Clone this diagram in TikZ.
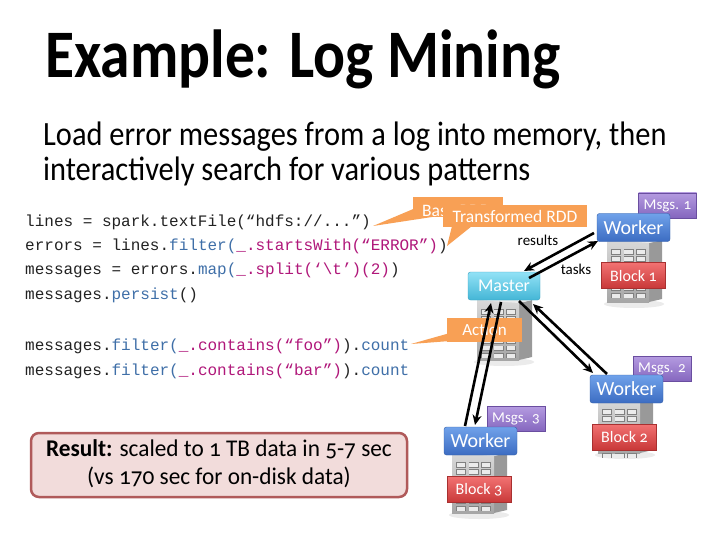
\documentclass[tikz,border=0pt]{standalone}
\usepackage{graphicx}
\usepackage{fontspec}
\setmainfont{Carlito}[Numbers=OldStyle]
\setmonofont{Liberation Mono}
\usetikzlibrary{arrows.meta}
\definecolor{kw}{HTML}{3F6FA8}
\definecolor{st}{HTML}{B0177A}
\definecolor{codeblk}{HTML}{222222}
\definecolor{orng}{HTML}{F8A055}
\definecolor{wtop}{HTML}{70A2EA}
\definecolor{wbot}{HTML}{3C6CC2}
\definecolor{wbrd}{HTML}{3560A8}
\definecolor{mtop}{HTML}{92E2F6}
\definecolor{mbot}{HTML}{44B6D6}
\definecolor{mbrd}{HTML}{3AA0C0}
\definecolor{ptop}{HTML}{B49AE0}
\definecolor{pbot}{HTML}{8466BE}
\definecolor{pbrd}{HTML}{6A4EA0}
\definecolor{rtop}{HTML}{F27272}
\definecolor{rbot}{HTML}{C83838}
\definecolor{rbrd}{HTML}{A83030}
\definecolor{resfill}{HTML}{F2DCDB}
\definecolor{resbrd}{HTML}{B05A5A}
\newcommand\srv[3]{%
  \begin{scope}[shift={(#1,#2)}]
    \fill[black!8] (27,#3+2) ellipse (30 and 4);
    \fill[black!40] (42,3) -- (55,0) -- (55,#3-3) -- (42,#3) -- cycle;
    \shade[top color=black!15, bottom color=black!35] (0,0) rectangle (42,#3);
    \fill[black!8] (0,0) -- (13,-3) -- (55,0) -- (42,3) -- cycle;
    \foreach \c in {0,1,2}{\foreach \r in {0,...,6}{%
      \fill[black!50] (4+\c*12.5,9+\r*7.3) rectangle ++(10,5.5);
      \fill[white!92!black] (4.8+\c*12.5,9.8+\r*7.3) rectangle ++(8.4,3.9);}}
  \end{scope}}
\tikzset{
  box/.style={rounded corners=2.5pt, inner sep=0pt, text=white, draw},
  wrk/.style={box, top color=wtop, bottom color=wbot, draw=wbrd, minimum width=73pt, minimum height=28pt, font=\fontsize{20}{20}\selectfont},
  mst/.style={box, top color=mtop, bottom color=mbot, draw=mbrd, minimum width=72pt, minimum height=28pt, font=\fontsize{18}{18}\selectfont},
  msg/.style={box, rounded corners=0pt, top color=ptop, bottom color=pbot, draw=pbrd, minimum width=58pt, minimum height=25pt, font=\fontsize{15}{15}\selectfont},
  blk/.style={box, rounded corners=0pt, top color=rtop, bottom color=rbot, draw=rbrd, minimum width=64pt, minimum height=26pt, font=\fontsize{16}{16}\selectfont},
  call/.style={inner sep=0pt, fill=orng, text=white, font=\fontsize{17.5}{17.5}\selectfont},
  code/.style={anchor=base west, inner sep=0pt, text=codeblk, font=\ttfamily\fontsize{16}{16}\selectfont},
  arr/.style={line width=2.6pt, -{Stealth[length=10pt,width=9pt]}},
  lbl/.style={inner sep=0pt, font=\fontsize{15}{15}\selectfont},
}
\begin{document}
\begin{tikzpicture}[x=1pt,y=-1pt]
\useasboundingbox (0,0) rectangle (720,540);
\fill[white] (0,0) rectangle (720,540);
% title and subtitle
\node[anchor=base west, inner sep=0pt] (title) at (45,78) {\scalebox{0.875}[1]{\fontsize{68}{68}\selectfont\bfseries Example: Log Mining}};
\node[anchor=base west, inner sep=0pt] (sub1) at (43,146) {\scalebox{0.895}[1]{\fontsize{34}{34}\selectfont Load error messages from a log into memory, then}};
\node[anchor=base west, inner sep=0pt] (sub2) at (43,181) {\scalebox{0.895}[1]{\fontsize{34}{34}\selectfont interactively search for various patterns}};
% code
\node[code] (c1) at (25,226) {lines = spark.textFile(“hdfs://...”)};
\node[code] (c2) at (25,250) {errors = lines.\textcolor{kw}{filter(}\textcolor{st}{\_.startsWith(“ERROR”)})};
\node[code] (c3) at (25,274) {messages = errors.\textcolor{kw}{map(}\textcolor{st}{\_.split(‘\textbackslash t’)(2)})};
\node[code] (c4) at (25,299) {messages.\textcolor{kw}{persist}()};
\node[code] (c5) at (25,350) {messages.\textcolor{kw}{filter(}\textcolor{st}{\_.contains(“foo”)}).\textcolor{kw}{count}};
\node[code] (c6) at (25,375) {messages.\textcolor{kw}{filter(}\textcolor{st}{\_.contains(“bar”)}).\textcolor{kw}{count}};
\coordinate (t1) at (373,226);
\coordinate (t2) at (447,246);
\coordinate (t3) at (411,344);
% servers
\srv{477}{300}{60}
\srv{607}{240}{62}
\srv{598}{400}{53}
\srv{452}{453}{60}
% callouts
\fill[orng] (418,207) -- (t1) -- (432,217) -- cycle;
\node[call, minimum width=90pt, minimum height=20pt] (base) at (458,207) {};
\node[call, anchor=west] (basetxt) at (422,211) {Base RDD};
\fill[orng] (452,226) -- (t2) -- (472,226) -- cycle;
\node[call, minimum width=144pt, minimum height=22pt] (trans) at (515,216) {Transformed RDD};
\fill[orng] (450,333) -- (t3) -- (450,341) -- cycle;
\node[call, minimum width=75pt, minimum height=24pt, font=\fontsize{17}{17}\selectfont] (act) at (484.5,330) {Action};
% boxes
\node[mst] (M) at (504,286) {Master};
\node[msg] (m1) at (667.5,205.5) {Msgs. 1};
\node[wrk] (W1) at (633.5,227.5) {Worker};
\node[blk] (b1) at (633.5,275.5) {Block 1};
\node[msg] (m2) at (662,369) {Msgs. 2};
\node[wrk] (W2) at (626.5,389) {Worker};
\node[blk] (b2) at (624.5,437) {Block 2};
\node[msg] (m3) at (516,419) {Msgs. 3};
\node[wrk] (W3) at (480.5,441) {Worker};
\node[blk] (b3) at (479,489.5) {Block 3};
% arrows
\coordinate (r1) at (594,233);
\coordinate (r2) at (524,271);
\coordinate (k1) at (529,278);
\coordinate (k2) at (598,241);
\draw[arr] (r1) -- (r2);
\draw[arr] (k1) -- (k2);
\coordinate (e1) at (519,301);
\coordinate (e2) at (593,373);
\coordinate (f1) at (607,374);
\coordinate (f2) at (533,304);
\draw[arr] (e1) -- (e2);
\draw[arr] (f1) -- (f2);
\coordinate (g1) at (465,426);
\coordinate (g2) at (491,303);
\coordinate (h1) at (501,302);
\coordinate (h2) at (475,425);
\draw[arr] (g1) -- (g2);
\draw[arr] (h1) -- (h2);
\node[lbl] (res) at (538,240) {results};
\node[lbl] (tsk) at (576,269) {tasks};
% result box
\node[draw=resbrd, line width=2.5pt, fill=resfill, rounded corners=8pt, minimum width=376pt, minimum height=64pt, inner sep=0pt] (result) at (219,465) {\scalebox{0.97}[1]{\fontsize{24}{28}\selectfont\begin{tabular}{@{}c@{}}\textbf{Result:} scaled to 1 TB data in 5-7 sec\\(vs 170 sec for on-disk data)\end{tabular}}};
\end{tikzpicture}
\end{document}
